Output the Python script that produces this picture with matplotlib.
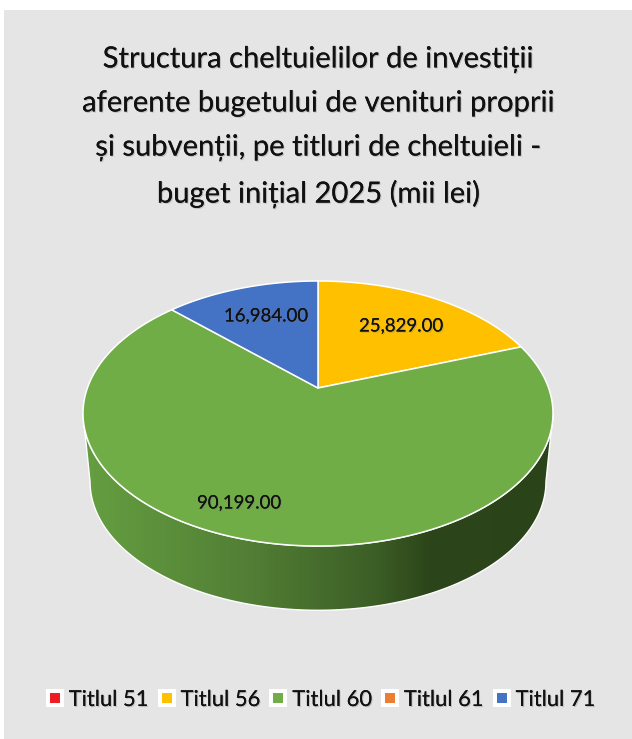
import numpy as np
import matplotlib
matplotlib.use("Agg")
import matplotlib.pyplot as plt
import matplotlib.patheffects as pe
from matplotlib.colors import LinearSegmentedColormap
from matplotlib.lines import Line2D
from matplotlib.patches import Polygon, Rectangle

plt.rcParams['font.family'] = ['Lato', 'DejaVu Sans']

title = ("Structura cheltuielilor de investiții\n"
         "aferente bugetului de venituri proprii\n"
         "și subvenții, pe titluri de cheltuieli -\n"
         "buget inițial 2025 (mii lei)")
categories = ["Titlul 51", "Titlul 56", "Titlul 60", "Titlul 61", "Titlul 71"]
values = [0, 25829, 90199, 0, 16984]
colors = ["#ed1c24", "#ffc000", "#70ad47", "#ed7d31", "#4472c4"]

# pie drawn in pixel coords, tilted with a perspective map
APEX_X, APEX_Y = 318, 388
RX, RY, K = 230.6, 127.6, 0.1925
WALL_DROP = 69
WALL_SCALE = 0.97


def project(theta, r=1.0, drop=0, scale=1.0):
    # theta runs clockwise from 12 o'clock
    px = r * np.sin(theta)
    py = r * np.cos(theta)
    d = 1 + K * py
    return APEX_X + scale * RX * px / d, APEX_Y + drop - scale * RY * py / d


fig = plt.figure(figsize=(6.32, 7.39), dpi=100, facecolor="white")
ax = fig.add_axes([0, 0, 1, 1])
ax.set_xlim(0, 632)
ax.set_ylim(739, 0)
ax.axis("off")

ax.add_patch(Rectangle((4, 10), 628, 729, fc="#e5e5e5", ec="none", zorder=0))

shadow = [pe.withSimplePatchShadow(offset=(0.8, -0.8), shadow_rgbFace="#777777", alpha=0.35),
          pe.Normal()]

ax.text(318.5, 127, title, ha="center", va="center", fontsize=21, color="#111111",
        linespacing=1.86, path_effects=shadow, zorder=6)

# side wall, gradient clipped to the front band
t_side = np.radians(np.linspace(90 + np.degrees(np.arcsin(K)), 270 - np.degrees(np.arcsin(K)), 240))
x_top, y_top = project(t_side)
x_bot, y_bot = project(t_side, drop=WALL_DROP, scale=WALL_SCALE)
wall = Polygon(np.r_[np.c_[x_top, y_top], np.c_[x_bot, y_bot][::-1]], closed=True,
               fc="none", ec="white", lw=1.0, zorder=2)
ax.add_patch(wall)
wall_cmap = LinearSegmentedColormap.from_list(
    "wall", [(0, "#659f41"), (0.35, "#527f35"), (0.62, "#3c5e26"), (0.74, "#2c4519"), (1, "#2b4319")])
im = ax.imshow(np.linspace(0, 1, 512)[None, :], extent=(83, 553, 739, 0), aspect="auto",
               cmap=wall_cmap, zorder=1.5)
im.set_clip_path(wall)
ax.set_xlim(0, 632)
ax.set_ylim(739, 0)

# top face slices from the values, clockwise from 12 o'clock
total = sum(values)
angle = 0.0
for val, col in zip(values, colors):
    if val == 0:
        continue
    step = 2 * np.pi * val / total
    t = np.linspace(angle, angle + step, 200)
    x, y = project(t)
    ax.add_patch(Polygon(np.r_[[[APEX_X, APEX_Y]], np.c_[x, y]], closed=True,
                         fc=col, ec="white", lw=1.1, joinstyle="round", zorder=3))
    angle += step

label_pos = {"Titlul 56": (401, 326), "Titlul 60": (239, 503), "Titlul 71": (266, 316)}
for cat, val in zip(categories, values):
    if val == 0:
        continue
    lx, ly = label_pos[cat]
    ax.text(lx, ly, f"{val:,.2f}", ha="center", va="center", fontsize=13.4, color="#111111",
            path_effects=shadow, zorder=5)

handles = [Line2D([], [], ls="none", marker="s", ms=10, mfc=c, mec="white", mew=2.9) for c in colors]
leg = ax.legend(handles, categories, ncol=5, loc="center", bbox_to_anchor=(322 / 632, 1 - 700 / 739),
                frameon=False, fontsize=15.8, handlelength=0.62, handletextpad=0.32,
                columnspacing=0.49, borderpad=0, borderaxespad=0)
for txt in leg.get_texts():
    txt.set_color("#111111")
    txt.set_path_effects(shadow)

fig.savefig("out.png", dpi=100, facecolor="white")
